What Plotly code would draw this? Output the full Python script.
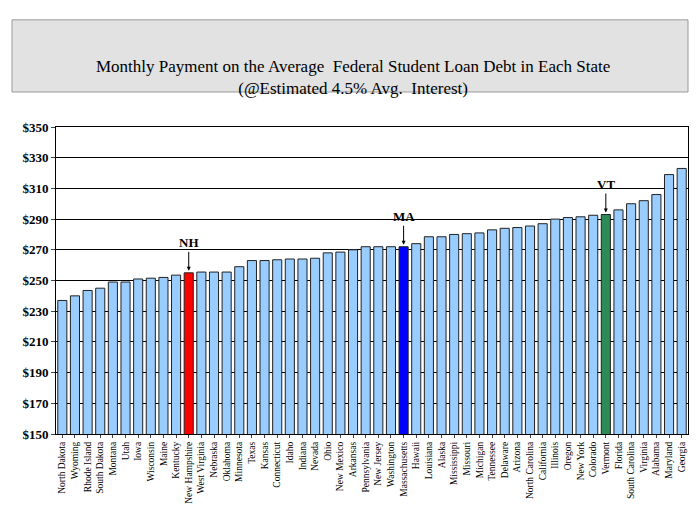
import plotly.graph_objects as go

states = ["North Dakota","Wyoming","Rhode Island","South Dakota","Montana","Utah","Iowa","Wisconsin","Maine","Kentucky",
"New Hampshire","West Virginia","Nebraska","Oklahoma","Minnesota","Texas","Kansas","Connecticut","Idaho","Indiana",
"Nevada","Ohio","New Mexico","Arkansas","Pennsylvania","New Jersey","Washington","Massachusetts","Hawaii","Louisiana",
"Alaska","Mississippi","Missouri","Michigan","Tennessee","Delaware","Arizona","North Carolina","California","Illinois",
"Oregon","New York","Colorado","Vermont","Florida","South Carolina","Virginia","Alabama","Maryland","Georgia"]
payments = [237,240,243.5,245,249,249,251,251.5,252,253.5,
255,255.5,255.5,255.5,259,263,263,263.5,264,264,
264.5,268,268.5,270,272,272,272,272,274,278.5,
278.5,280,280.5,281,283,284,284.5,285.5,287,290,
291,291.5,292.5,293,296,300,302,306,319,323]
tick_vals = [150,170,190,210,230,250,270,290,310,330,350]
tick_text = ["$150","$170","$190","$210","$230","$250","$270","$290","$310","$330","$350"]
highlights = {"New Hampshire": ("#ff0000", "NH"), "Massachusetts": ("#0000ff", "MA"), "Vermont": ("#2e8b57", "VT")}

colors = [highlights[s][0] if s in highlights else "#99ccff" for s in states]

fig = go.Figure(go.Bar(x=states, y=payments, marker=dict(color=colors, line=dict(color="#222222", width=1)), width=0.72))

for s, (c, lab) in highlights.items():
    v = payments[states.index(s)]
    fig.add_annotation(x=s, y=v, text="<b>%s</b>" % lab, showarrow=True, arrowhead=2, arrowsize=0.8,
                       arrowwidth=1, arrowcolor="black", ax=0, ay=-28, yshift=2,
                       font=dict(family="Liberation Serif", size=13, color="black"))

fig.add_shape(type="rect", xref="paper", yref="paper", x0=-0.0696, x1=1.0, y0=1.114, y1=1.349,
              line=dict(color="#999999", width=1), fillcolor="#e2e2e2", layer="below")
fig.add_annotation(xref="paper", yref="paper", x=0.47, y=1.235, showarrow=False,
                   text="Monthly Payment on the Average  Federal Student Loan Debt in Each State<br>(@Estimated 4.5% Avg.  Interest)",
                   font=dict(family="Liberation Serif", size=17, color="black"))

fig.update_layout(
    width=684, height=509, margin=dict(l=48, r=4, t=119, b=83, autoexpand=False),
    paper_bgcolor="white", plot_bgcolor="white", showlegend=False,
    font=dict(family="Liberation Serif", color="black"),
)
fig.update_yaxes(range=[150, 350], tickvals=tick_vals, ticktext=tick_text, automargin=False,
                 tickfont=dict(size=13, family="Liberation Serif", weight="bold"), showgrid=True, gridcolor="black", gridwidth=1,
                 showline=True, linecolor="black", mirror=True, ticks="outside", ticklen=4)
fig.update_xaxes(range=[-0.5, 49.5], automargin=False, tickangle=-90, tickfont=dict(size=9.5, family="Liberation Serif"),
                 showline=True, linecolor="black", mirror=True, ticks="outside", ticklen=3)
fig.write_html("out.html")
